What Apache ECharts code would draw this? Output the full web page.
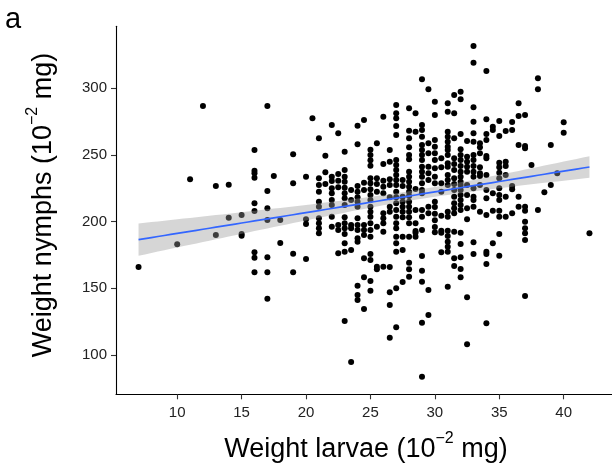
<!DOCTYPE html>
<html><head><meta charset="utf-8">
<script src="https://cdn.jsdelivr.net/npm/echarts/dist/echarts.min.js"></script>
<style>html,body{margin:0;padding:0;background:#fff}#c{width:612px;height:464px}</style>
</head><body><div id="c"></div>
<script>
// tick labels
const xTicks = [10, 15, 20, 25, 30, 35, 40];
const yTicks = [100, 150, 200, 250, 300];

// larvae weight columns (10^-2 mg) and the nymph weights observed at each
const larvaeValues = [7, 10, 11, 12, 13, 14, 15, 16, 17, 17.5, 18, 19, 20, 20.5, 21, 21.5, 22, 22.5, 23, 23.5, 24, 24.5, 25, 25.5, 26, 26.5, 27, 27.5, 28, 28.5, 29, 29.5, 30, 30.5, 31, 31.5, 32, 32.5, 33, 33.5, 34, 34.5, 35, 35.5, 36, 36.5, 37, 37.5, 38, 38.5, 39, 39.5, 40, 42];
const nymphValues = [
  [166],
  [183],
  [231.7],
  [286.7],
  [226.7, 190],
  [227.7, 203],
  [205, 190.7, 189.5],
  [253.7, 238.2, 236.2, 233, 213.7, 208, 177, 173, 162],
  [286.7, 223, 210, 201.2, 173.2, 162, 142.2],
  [234.2],
  [201.2, 184],
  [250.5, 228.7, 176, 162],
  [233.7, 201.7, 198.2, 172],
  [277.5],
  [262.5, 232.5, 227.5, 222.5, 215, 211.2, 202.5, 198.7, 195, 191.2],
  [249.5, 237, 228.2],
  [272.5, 233.7, 230.5, 225, 221.2, 216.2, 212.5, 203.7, 196.2],
  [266.2, 235.7, 230.7, 225.7, 197.5, 193.7, 176.2],
  [252.5, 238.7, 233.7, 230, 225.5, 221.2, 217.5, 212.5, 203.2, 198.7, 195, 190.7, 183.7, 177.5, 125.5],
  [223.7, 216.2, 197.5, 195, 178.7, 94.7],
  [272, 258, 226.7, 222.5, 218.2, 215, 211.2, 202.5, 197.5, 193.7, 187.5, 185, 152, 145, 141.2],
  [276.2, 229.2, 223.7, 197.5, 193.7, 190, 172.5, 158.2, 134.5],
  [254, 250, 246, 242, 232.5, 228.7, 224.2, 220, 216.2, 211.2, 207.5, 203.7, 198.7, 193.7, 188.7, 175.7, 171.2, 155.5, 148.2],
  [258.7, 232.5, 228.2, 222.5, 196.2, 166.2, 164.2],
  [278.7, 243.2, 230.7, 226.2, 221.2, 206.2, 202.5, 198.7, 192.5, 166.2],
  [253.7, 245, 231.7, 227.5, 218.2, 211.2, 207.5, 166, 147, 137.5, 113],
  [287.5, 281.2, 277.5, 271.7, 265, 246.2, 242.5, 238.7, 235, 231.2, 227.5, 222.5, 218.2, 213.7, 208.7, 203.7, 198.7, 195, 188.7, 183.7, 177.5, 150, 120.7],
  [231.2, 226.7, 218.7, 215, 211.2, 207.5, 203.2, 188.7, 178.7, 154.7],
  [285, 268.2, 262.5, 255.7, 250, 246.7, 237.5, 233.7, 230, 226.2, 222.5, 219.2, 215, 211.2, 207.5, 203.2, 198.7, 188.7, 169.2, 164.2, 158.7],
  [281.2, 267.5, 224.5, 208.7, 198.7, 193, 191.7, 188.7],
  [306.7, 272.5, 268.7, 263.7, 257.5, 253.7, 250, 246.2, 241.2, 237.5, 233.7, 228.7, 223.7, 221.2, 208.7, 203.7, 193.7, 174.2, 163.2, 155, 124.2, 83.7],
  [299.2, 258.7, 251.2, 241.2, 236.2, 231.2, 211.2, 206.2, 148.7, 130],
  [290, 280, 261.2, 256.2, 251.2, 246.2, 240, 233.7, 228.7, 215, 211, 206, 201, 196, 192],
  [247.5, 240.7, 228.7, 222.5, 204.5, 193.2, 191.7, 177],
  [288.7, 282.5, 267.5, 263.7, 260, 256.2, 253.7, 250, 243.7, 241.2, 235, 231.2, 227.5, 207.5, 203.7, 193.2, 189.2, 185, 181.2, 177.5, 151.2],
  [295, 281.2, 262.5, 247.5, 243.2, 238.7, 232.5, 228.2, 223.7, 218.7, 213.7, 210, 206.2, 192.5, 172.5, 166.7],
  [297.5, 291.7, 265.7, 254.2, 250, 246.2, 241.7, 237.5, 233.7, 230, 227.5, 223.7, 220, 216.2, 212.5, 208.7, 191.7, 183.2, 173.2, 164.5, 158.2],
  [260.5, 248.7, 245, 241.2, 237.5, 227.5, 220, 210, 201.7, 143.2, 108],
  [331.7, 319.2, 285.7, 275, 266.2, 260, 250, 246.2, 241.7, 237.5, 233.7, 225, 218.7, 216.2, 211.2, 184.5, 175.7],
  [258.7, 255.7, 251.2, 240.7, 236.2, 234.2, 227.5, 207.5],
  [313, 276.7, 265.7, 261.2, 249.2, 247.5, 235, 223.7, 217.5, 205, 177.5, 175.7, 168.2, 123.7],
  [271.2, 268.7, 221.2, 208.2, 183.7],
  [275.5, 264.2, 244.2, 240.7, 236.7, 232.5, 225, 220, 216.2, 208.2, 203.7, 190.7, 174.5],
  [268, 245, 241.7, 235, 218.7, 203.7],
  [274.7, 268.7, 226.7, 224.2, 206.2],
  [288.7, 279.2, 257.5, 218.7, 211.2],
  [280, 256.7, 255, 211.2, 208.2, 200, 195, 191.2, 186.2, 144.2],
  [242.5],
  [307.5, 299.2, 208.7],
  [222],
  [257.5, 227.5],
  [236.2],
  [274.5, 266.7],
  [191.2]
];

// linear fit: y = intercept + slope * x, with its 95% band
const fitIntercept = 175.6;
const fitSlope = 1.557;
const fitRange = [7, 42];
const bandCentre = 28.5, bandHalfAtCentre = 3.6, bandSpread = 0.537;

const pts = [];
larvaeValues.forEach((x, i) => nymphValues[i].forEach(y => pts.push([x, y])));

const fitLine = [], bandUpper = [], bandLower = [];
for (let k = 0; k <= 70; k++) {
  const x = fitRange[0] + (fitRange[1] - fitRange[0]) * k / 70;
  const y = fitIntercept + fitSlope * x;
  const h = Math.sqrt(bandHalfAtCentre * bandHalfAtCentre + bandSpread * bandSpread * (x - bandCentre) * (x - bandCentre));
  fitLine.push([x, y]);
  bandUpper.push([x, y + h]);
  bandLower.push([x, y - h]);
}

const FONT = '"Liberation Sans", Arial, sans-serif';
const titleRich = {
  n: {fontSize: 27, fontFamily: FONT, fill: '#000', lineHeight: 32, verticalAlign: 'bottom'},
  s: {fontSize: 16, fontFamily: FONT, fill: '#000', lineHeight: 32, verticalAlign: 'top'}
};
const chart = echarts.init(document.getElementById('c'), null, {renderer: 'canvas'});
chart.setOption({
  animation: false,
  backgroundColor: '#fff',
  grid: {left: 116, top: 26.3, width: 499.7, height: 368, containLabel: false},
  xAxis: {
    type: 'value', min: 5.25, max: 43.75,
    splitLine: {show: false},
    axisLine: {lineStyle: {color: '#000', width: 1.1}},
    axisTick: {show: true, length: 5, lineStyle: {color: '#333', width: 1.1}, customValues: xTicks},
    axisLabel: {margin: 11, fontSize: 15, color: '#222', fontFamily: FONT, customValues: xTicks}
  },
  yAxis: {
    type: 'value', min: 70.5, max: 346.5,
    splitLine: {show: false},
    axisLine: {show: true, lineStyle: {color: '#000', width: 1.1}},
    axisTick: {show: true, length: 5, lineStyle: {color: '#333', width: 1.1}, customValues: yTicks},
    axisLabel: {margin: 9, fontSize: 15, color: '#222', fontFamily: FONT, customValues: yTicks}
  },
  graphic: [
    {type: 'text', left: 5, top: 5, style: {text: 'a', fontSize: 29, fontFamily: FONT, fill: '#000'}},
    {type: 'text', x: 366, y: 447, style: {
      text: '{n|Weight larvae (10}{s|−2}{n| mg)}', align: 'center', verticalAlign: 'middle', rich: titleRich
    }},
    {type: 'text', x: 41, y: 205, rotation: Math.PI / 2, style: {
      text: '{n|Weight nymphs (10}{s|−2}{n| mg)}', align: 'center', verticalAlign: 'middle', rich: titleRich
    }}
  ],
  series: [
    {type: 'scatter', data: pts, symbolSize: 6, itemStyle: {color: '#000', opacity: 1}, z: 1, silent: true},
    {type: 'custom', z: 2, silent: true, data: [0],
     renderItem: function (params, api) {
       const poly = bandUpper.map(p => api.coord(p)).concat(bandLower.slice().reverse().map(p => api.coord(p)));
       return {type: 'polygon', shape: {points: poly}, style: {fill: 'rgba(153,153,153,0.4)', stroke: null}};
     }},
    {type: 'line', data: fitLine, symbol: 'none', lineStyle: {color: '#3366FF', width: 1.7}, z: 3, silent: true}
  ]
});
</script></body></html>
